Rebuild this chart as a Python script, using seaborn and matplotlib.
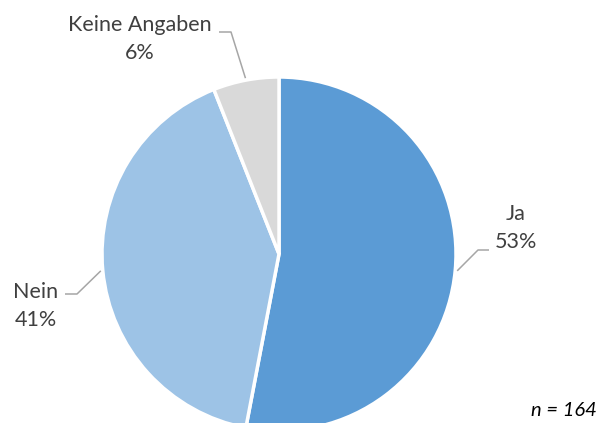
import numpy as np
import matplotlib
matplotlib.use('Agg')
import matplotlib.pyplot as plt
import seaborn as sns

# Data
labels = ['Ja', 'Nein', 'Keine Angaben']
shares = [53, 41, 6]
colors = ['#5B9BD5', '#9DC3E6', '#D9D9D9']
sample_note = 'n = 164'

sns.set_theme(style='white')
plt.rcParams['font.family'] = ['Lato', 'DejaVu Sans']

W, H = 598, 423
fig = plt.figure(figsize=(W / 100, H / 100), dpi=100)
ax = fig.add_axes([0, 0, 1, 1])


def py(y):
    # pixel row (from top) -> data y
    return H - y


center = (279, py(254))
radius = 177

wedges, _ = ax.pie(shares, colors=colors, startangle=90, counterclock=False,
                   center=center, radius=radius,
                   wedgeprops=dict(edgecolor='white', linewidth=2.5))

# label block centre, elbow and end of leader line (pixel coords)
label_pos = {
    'Ja': dict(text=(516, 228), elbow=(478, 250), end=(489, 250)),
    'Nein': dict(text=(36, 306), elbow=(77, 294), end=(65, 294)),
    'Keine Angaben': dict(text=(140, 39), elbow=(231, 32), end=(219, 32)),
}

for w, lab, val in zip(wedges, labels, shares):
    mid = np.deg2rad((w.theta1 + w.theta2) / 2)
    ex = center[0] + (radius + 2) * np.cos(mid)
    ey = center[1] + (radius + 2) * np.sin(mid)
    p = label_pos[lab]
    ax.plot([ex, p['elbow'][0], p['end'][0]],
            [ey, py(p['elbow'][1]), py(p['end'][1])],
            color='#A6A6A6', lw=1.1, solid_capstyle='butt')
    ax.text(p['text'][0], py(p['text'][1]), f'{lab}\n{val}%',
            ha='center', va='center', fontsize=15.5, color='#404040',
            linespacing=1.5, multialignment='center')

ax.text(597, py(410), sample_note, ha='right', va='center',
        fontsize=14.5, style='italic', color='black')

ax.set_xlim(0, W)
ax.set_ylim(0, H)
ax.set_aspect('equal')
ax.axis('off')

fig.savefig('out.png', dpi=100)
